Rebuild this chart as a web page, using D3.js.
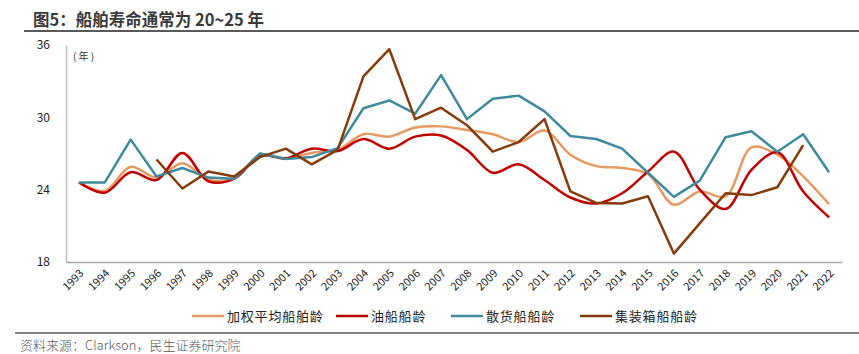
<!DOCTYPE html>
<html>
<head>
<meta charset="utf-8">
<script src="https://d3js.org/d3.v7.min.js"></script>
<style>
    body { margin: 0; background: #fff; }
    svg text { font-family: "Noto Sans CJK SC", "Liberation Sans", sans-serif; }
</style>
</head>
<body>
<svg id="chart" width="859" height="354"></svg>
<script>
    // data
    const years = d3.range(1993, 2023).map(String);
    const avgAge = [24.6, 23.9, 25.9, 25.0, 26.2, 24.85, 24.95, 26.9, 26.6, 27.05,
                    27.3, 28.6, 28.4, 29.15, 29.25, 28.95, 28.6, 27.95, 28.9, 26.9,
                    25.95, 25.8, 25.3, 22.75, 23.85, 23.45, 27.5, 26.9, 25.1, 22.8];
    const tankerAge = [24.6, 23.75, 25.45, 24.8, 27.05, 24.7, 24.9, 26.8, 26.6, 27.4,
                       27.2, 28.2, 27.4, 28.4, 28.5, 27.3, 25.4, 26.1, 24.8, 23.35,
                       22.85, 23.7, 25.5, 27.15, 24.0, 22.4, 25.65, 27.1, 23.85, 21.7];
    const bulkAge = [24.6, 24.6, 28.15, 25.1, 25.8, 25.0, 24.9, 27.0, 26.55, 26.7,
                     27.45, 30.75, 31.4, 30.3, 33.5, 29.85, 31.55, 31.8, 30.5, 28.45,
                     28.2, 27.4, 25.4, 23.4, 24.75, 28.35, 28.85, 27.15, 28.6, 25.45];
    const boxAge = [null, null, null, 26.5, 24.1, 25.5, 25.1, 26.7, 27.4, 26.1,
                    27.3, 33.4, 35.65, 29.85, 30.8, 29.35, 27.15, 27.95, 29.85, 23.85,
                    22.9, 22.85, 23.45, 18.7, 21.2, 23.7, 23.55, 24.2, 27.7, null];
    const yTicks = [18, 24, 30, 36];

    const series = [
        {name: "加权平均船舶龄", values: avgAge, color: "#E59A62", smooth: true},
        {name: "油船船龄", values: tankerAge, color: "#C00000", smooth: true},
        {name: "散货船船龄", values: bulkAge, color: "#3F8A9C", smooth: false},
        {name: "集装箱船船龄", values: boxAge, color: "#843C0C", smooth: false}
    ];

    const svg = d3.select("svg#chart");
    const margin = {top: 45, right: 17, bottom: 92, left: 66};
    const chartWidth = 859 - margin.left - margin.right;
    const chartHeight = 354 - margin.top - margin.bottom;

    // title and rules
    svg.append("text")
       .attr("x", 33).attr("y", 26)
       .attr("font-size", 16.5).attr("font-weight", "bold")
       .attr("fill", "#3a3a3a")
       .text("图5：船舶寿命通常为 20~25 年");
    svg.append("line")
       .attr("x1", 24).attr("x2", 859).attr("y1", 31).attr("y2", 31)
       .attr("stroke", "#595959").attr("stroke-width", 2);
    svg.append("line")
       .attr("x1", 15).attr("x2", 859).attr("y1", 333).attr("y2", 333)
       .attr("stroke", "#595959").attr("stroke-width", 1.5);
    svg.append("text")
       .attr("x", 20).attr("y", 350)
       .attr("font-size", 13).attr("font-weight", 300).attr("fill", "#595959")
       .text("资料来源：Clarkson，民生证券研究院");

    const chartArea = svg.append("g")
        .attr("transform", `translate(${margin.left}, ${margin.top})`);

    const xScale = d3.scalePoint()
        .domain(years)
        .range([0, chartWidth])
        .padding(0.5);
    const yScale = d3.scaleLinear()
        .domain([18, 36])
        .range([chartHeight, 0]);

    // y axis
    const leftAxis = d3.axisLeft(yScale).tickValues(yTicks).tickSize(0).tickPadding(16);
    const yAxisG = chartArea.append("g").call(leftAxis);
    yAxisG.select(".domain").attr("stroke", "#bfbfbf").attr("stroke-width", 1.5);
    yAxisG.selectAll("text").attr("font-size", 12).attr("fill", "#222")
          .attr("font-family", "Liberation Sans, sans-serif");

    // x axis
    const bottomAxis = d3.axisBottom(xScale).tickSize(0).tickPadding(0);
    const xAxisG = chartArea.append("g")
        .attr("transform", `translate(0, ${chartHeight})`)
        .call(bottomAxis);
    xAxisG.select(".domain").attr("stroke", "#a6a6a6").attr("stroke-width", 1.5);
    xAxisG.selectAll("text")
          .attr("font-size", 11).attr("fill", "#222")
          .attr("font-family", "Liberation Sans, sans-serif")
          .attr("text-anchor", "end")
          .attr("dy", 0)
          .attr("transform", "translate(5, 12) rotate(-45)");

    chartArea.append("text")
       .attr("x", 7).attr("y", 15)
       .attr("font-size", 10).attr("fill", "#333")
       .attr("xml:space", "preserve")
       .text("( 年 )");

    // lines
    series.forEach(s => {
        const line = d3.line()
            .defined(d => d != null)
            .x((d, i) => xScale(years[i]))
            .y(d => yScale(d))
            .curve(s.smooth ? d3.curveCatmullRom.alpha(0.5) : d3.curveLinear);
        chartArea.append("path")
            .datum(s.values)
            .attr("d", line)
            .attr("fill", "none")
            .attr("stroke", s.color)
            .attr("stroke-width", 2.5)
            .attr("stroke-linejoin", "round");
    });

    // legend
    const legendX = [192, 336, 451, 580];
    series.forEach((s, i) => {
        const g = svg.append("g").attr("transform", `translate(${legendX[i]}, 316)`);
        g.append("line")
         .attr("x1", 0).attr("x2", 32).attr("y1", 0).attr("y2", 0)
         .attr("stroke", s.color).attr("stroke-width", 2.5);
        g.append("text")
         .attr("x", 35).attr("y", 5)
         .attr("font-size", 13).attr("fill", "#222")
         .attr("letter-spacing", 0.8)
         .text(s.name);
    });
</script>
</body>
</html>
